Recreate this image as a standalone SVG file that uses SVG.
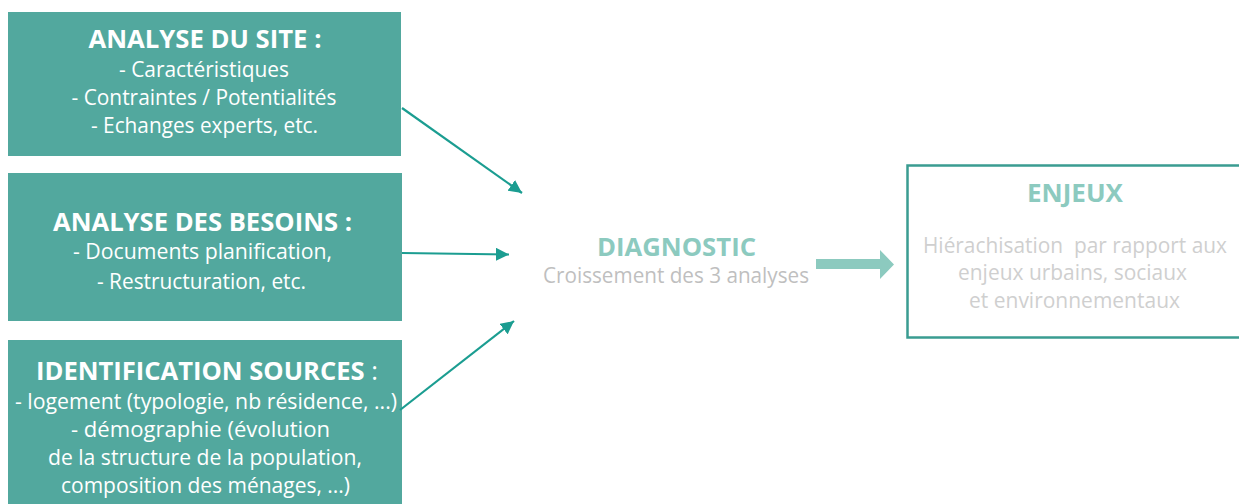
<svg xmlns="http://www.w3.org/2000/svg" width="1239" height="504" viewBox="0 0 1239 504">
<style>
.box{fill:#52a89e;}
.t{font-family:"Open Sans",Lato,"Liberation Sans",sans-serif;text-anchor:middle;}
.w{fill:#ffffff;font-size:21px;}
.wb{fill:#ffffff;font-size:25px;font-weight:bold;}
.g{fill:#bfbfbf;font-size:21px;}
.lg{fill:#cfcfcf;font-size:21px;}
.tb{fill:#8ccabf;font-size:25px;font-weight:bold;}
.conn{stroke:#1b9d91;stroke-width:2.2;fill:none;}
</style>
<defs>
<marker id="ah" viewBox="0 0 10 10" refX="10" refY="5" markerWidth="6" markerHeight="6" orient="auto" markerUnits="strokeWidth">
<path d="M0,0 L10,5 L0,10 z" fill="#1b9d91"/>
</marker>
</defs>
<rect width="1239" height="504" fill="#ffffff"/>
<g id="analyse-site">
<rect class="box" x="8" y="12" width="393" height="144"/>
<text class="t wb" x="205" y="48" textLength="233" lengthAdjust="spacingAndGlyphs">ANALYSE DU SITE :</text>
<text class="t w" x="204" y="77" textLength="170" lengthAdjust="spacingAndGlyphs">- Caractéristiques</text>
<text class="t w" x="204" y="105" textLength="265" lengthAdjust="spacingAndGlyphs">- Contraintes / Potentialités</text>
<text class="t w" x="204.5" y="133" textLength="227" lengthAdjust="spacingAndGlyphs">- Echanges experts, etc.</text>
</g>
<g id="analyse-besoins">
<rect class="box" x="8" y="173" width="394" height="148"/>
<text class="t wb" x="202.5" y="231" textLength="299" lengthAdjust="spacingAndGlyphs">ANALYSE DES BESOINS :</text>
<text class="t w" x="202.5" y="259" textLength="259" lengthAdjust="spacingAndGlyphs">- Documents planification,</text>
<text class="t w" x="201.5" y="289" textLength="209" lengthAdjust="spacingAndGlyphs">- Restructuration, etc.</text>
</g>
<g id="identification-sources">
<rect class="box" x="8" y="340" width="394" height="170"/>
<text class="t" x="207" y="380" textLength="342" lengthAdjust="spacingAndGlyphs"><tspan class="wb">IDENTIFICATION SOURCES</tspan><tspan class="w" style="font-size:25px"> :</tspan></text>
<text class="t w" x="206" y="409" textLength="382" lengthAdjust="spacingAndGlyphs">- logement (typologie, nb résidence, ...)</text>
<text class="t w" x="200.5" y="437" textLength="259" lengthAdjust="spacingAndGlyphs">- démographie (évolution</text>
<text class="t w" x="205" y="465" textLength="314" lengthAdjust="spacingAndGlyphs">de la structure de la population,</text>
<text class="t w" x="205.5" y="493" textLength="289" lengthAdjust="spacingAndGlyphs">composition des ménages, ...)</text>
</g>
<g id="diagnostic">
<text class="t tb" x="676.5" y="256" textLength="159" lengthAdjust="spacingAndGlyphs">DIAGNOSTIC</text>
<text class="t g" x="676" y="283" textLength="266" lengthAdjust="spacingAndGlyphs">Croissement des 3 analyses</text>
</g>
<g id="enjeux">
<rect x="907.5" y="165.5" width="345" height="172" fill="none" stroke="#3a9c91" stroke-width="2.5"/>
<text class="t tb" x="1075" y="202" textLength="96" lengthAdjust="spacingAndGlyphs">ENJEUX</text>
<text class="t lg" x="1075" y="253" textLength="304" lengthAdjust="spacingAndGlyphs">Hiérachisation&#160; par rapport aux</text>
<text class="t lg" x="1072.5" y="280" textLength="229" lengthAdjust="spacingAndGlyphs">enjeux urbains, sociaux</text>
<text class="t lg" x="1074.5" y="308" textLength="211" lengthAdjust="spacingAndGlyphs">et environnementaux</text>
</g>
<g id="connectors">
<line class="conn" x1="402" y1="108" x2="522" y2="193" marker-end="url(#ah)"/>
<line class="conn" x1="402" y1="253" x2="509" y2="254.5" marker-end="url(#ah)"/>
<line class="conn" x1="400" y1="410" x2="514" y2="321" marker-end="url(#ah)"/>
<path d="M816,259 H880 V250 L894,264.5 L880,279 V269 H816 Z" fill="#8ccabf"/>
</g>
</svg>
